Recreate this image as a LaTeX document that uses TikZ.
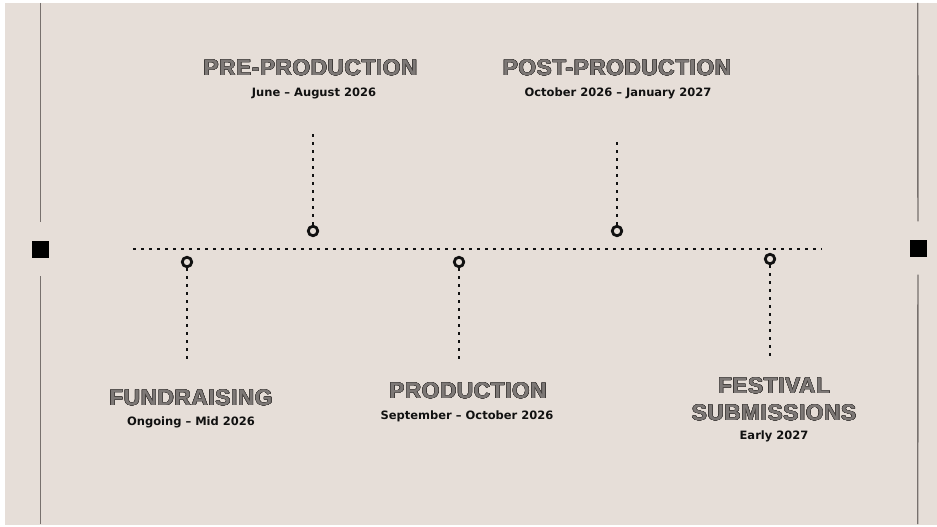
\documentclass[tikz,border=0pt]{standalone}
\usepackage{fontspec}
\setmainfont{Liberation Sans}
\newfontfamily\subfont{DejaVu Sans}
\newfontfamily\headfont[LetterSpace=3]{Liberation Sans}
\usepackage{contour}
\contourlength{0.45pt}
\contournumber{16}
\definecolor{paper}{HTML}{E6DED8}
\definecolor{ink}{HTML}{111111}
\definecolor{rule}{HTML}{77706D}
\definecolor{stone}{HTML}{7D7876}
\definecolor{rim}{HTML}{3A3634}
\newcommand{\phase}[1]{\contour{rim}{\textcolor{stone}{#1}}}

\begin{document}
\begin{tikzpicture}[x=1pt,y=-1pt,line join=round,
  dots/.style={ink,line width=2.8pt,dash pattern=on 2.8pt off 5.2pt},
  ring/.style={circle,draw=ink,line width=2.8pt,fill=paper,minimum size=9.5pt,inner sep=0pt},
  endbox/.style={fill=black,minimum size=17pt,inner sep=0pt},
  edge/.style={rule,line width=1.4pt},
  title/.style={font=\headfont\fontsize{22.5}{26}\selectfont\bfseries,align=center},
  dates/.style={font=\subfont\fontsize{11.5}{13}\selectfont\bfseries,text=ink}]
  \useasboundingbox (0,0) rectangle (937,527);
  \fill[white] (0,0) rectangle (937,527);
  \fill[paper] (5,3) rectangle (937,525);
  % side rails
  \node[endbox] (lsq) at (40.5,249) {};
  \node[endbox] (rsq) at (918,248) {};
  \coordinate (ltop) at (40.5,3);
  \coordinate (lbot) at (40.5,524);
  \coordinate (rtop) at (917.7,3);
  \coordinate (rbot) at (917.7,524);
  \draw[edge,shorten >=18pt] (ltop) -- (lsq);
  \draw[edge,shorten >=18pt] (lbot) -- (lsq);
  \draw[edge,shorten >=18pt] (rtop) -- (rsq);
  \draw[edge,shorten >=18pt] (rbot) -- (rsq);
  % main line
  \coordinate (start) at (133,249);
  \coordinate (stop) at (822,249);
  \draw[dots] (start) -- (stop);
  % milestones
  \node[ring] (fund) at (187,262) {};
  \node[ring] (pre) at (313,231) {};
  \node[ring] (prod) at (459,262) {};
  \node[ring] (post) at (617,231) {};
  \node[ring] (fest) at (770,259) {};
  \coordinate (fundend) at (187,362);
  \coordinate (preend) at (313,133);
  \coordinate (prodend) at (459,362);
  \coordinate (postend) at (617,137);
  \coordinate (festend) at (770,358);
  \draw[dots] (fund) -- (fundend);
  \draw[dots] (pre) -- (preend);
  \draw[dots] (prod) -- (prodend);
  \draw[dots] (post) -- (postend);
  \draw[dots] (fest) -- (festend);
  % labels
  \node[title] (pretitle) at (310.5,68) {\phase{PRE-PRODUCTION}};
  \node[dates] (predate) at (314,93) {June – August 2026};
  \node[title] (posttitle) at (617,68) {\phase{POST-PRODUCTION}};
  \node[dates] (postdate) at (618,93) {October 2026 – January 2027};
  \node[title] (fundtitle) at (191,398) {\phase{FUNDRAISING}};
  \node[dates] (funddate) at (191,422) {Ongoing – Mid 2026};
  \node[title] (prodtitle) at (468,391) {\phase{PRODUCTION}};
  \node[dates] (proddate) at (467,416) {September – October 2026};
  \node[title] (festtitle) at (774,386) {\phase{FESTIVAL}};
  \node[title] (festtitle2) at (774,413) {\phase{SUBMISSIONS}};
  \node[dates] (festdate) at (774,436) {Early 2027};
\end{tikzpicture}
\end{document}
